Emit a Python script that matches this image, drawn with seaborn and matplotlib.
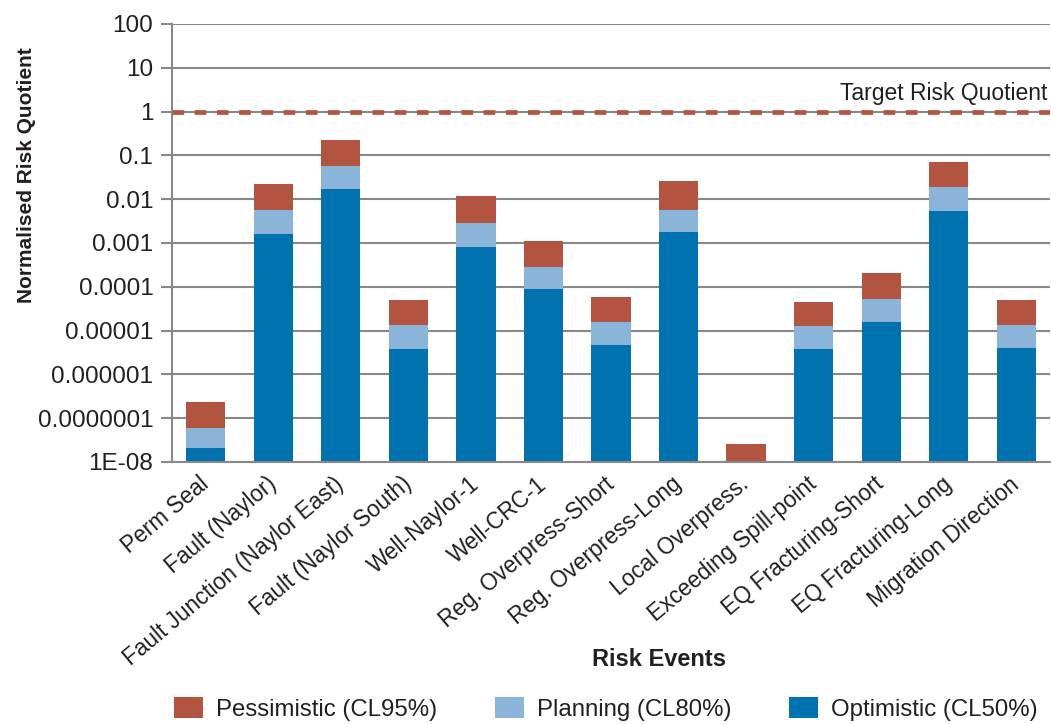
import numpy as np
import pandas as pd
import matplotlib
matplotlib.use("Agg")
import matplotlib.pyplot as plt
import matplotlib.transforms as mtransforms
from matplotlib.ticker import FixedLocator, FixedFormatter, NullLocator
import seaborn as sns

# Risk events along the x axis
events = [
    "Perm Seal", "Fault (Naylor)", "Fault Junction (Naylor East)",
    "Fault (Naylor South)", "Well-Naylor-1", "Well-CRC-1",
    "Reg. Overpress-Short", "Reg. Overpress-Long", "Local Overpress.",
    "Exceeding Spill-point", "EQ Fracturing-Short", "EQ Fracturing-Long",
    "Migration Direction",
]

# Normalised risk quotient per confidence level
pessimistic = [2.4e-7, 0.022, 0.22, 5.1e-5, 0.0116, 0.0011, 6.0e-5,
               0.026, 2.6e-8, 4.6e-5, 2.1e-4, 0.072, 4.9e-5]
planning = [5.9e-8, 0.0057, 0.057, 1.33e-5, 0.0028, 2.9e-4, 1.6e-5,
            0.0057, np.nan, 1.26e-5, 5.3e-5, 0.019, 1.33e-5]
optimistic = [2.1e-8, 0.00157, 0.017, 3.8e-6, 7.9e-4, 8.7e-5, 4.7e-6,
              0.00177, np.nan, 3.8e-6, 1.6e-5, 0.0055, 4.0e-6]

levels = ["Pessimistic (CL95%)", "Planning (CL80%)", "Optimistic (CL50%)"]
colors = ["#B35441", "#8AB5D8", "#0072AF"]

target_quotient = 1.0

y_ticks = [1e-8, 1e-7, 1e-6, 1e-5, 1e-4, 1e-3, 1e-2, 1e-1, 1, 10, 100]
y_tick_labels = ["1E-08", "0.0000001", "0.000001", "0.00001", "0.0001",
                 "0.001", "0.01", "0.1", "1", "10", "100"]

df = pd.concat([
    pd.DataFrame({"event": events, "value": vals, "level": lvl})
    for lvl, vals in zip(levels, [pessimistic, planning, optimistic])
], ignore_index=True)

sns.set_theme(style="white")
plt.rcParams["font.family"] = ["Liberation Sans", "DejaVu Sans"]
plt.rcParams["lines.scale_dashes"] = False
text_color = "#231F20"
grid_color = "#888888"

W, H = 1051, 724
fig = plt.figure(figsize=(W / 100, H / 100), dpi=100)
ax = fig.add_axes([172 / W, 1 - 462 / H, (1050 - 172) / W, (462 - 24) / H])

sns.barplot(data=df, x="event", y="value", hue="level", hue_order=levels,
            palette=colors, saturation=1, dodge=False, width=0.58,
            errorbar=None, linewidth=0, order=events, ax=ax)

ax.set_yscale("log")
ax.set_ylim(1e-8, 100)
ax.yaxis.set_major_locator(FixedLocator(y_ticks))
ax.yaxis.set_major_formatter(FixedFormatter(y_tick_labels))
ax.yaxis.set_minor_locator(NullLocator())

ax.set_axisbelow(True)
ax.grid(axis="y", color=grid_color, linewidth=1.5)
ax.grid(axis="x", visible=False)
for side in ["top", "right"]:
    ax.spines[side].set_visible(False)
for side in ["left", "bottom"]:
    ax.spines[side].set_color(grid_color)
    ax.spines[side].set_linewidth(1.5)

ax.tick_params(axis="y", which="major", length=8, width=1.5, color=grid_color,
               pad=5.5, labelsize=17.5, labelcolor=text_color, left=True)
ax.tick_params(axis="x", length=0, pad=14, labelsize=16.3, labelcolor=text_color)
for lab in ax.get_xticklabels():
    lab.set_rotation(40)
    lab.set_ha("right")
    lab.set_va("center")
    lab.set_rotation_mode("anchor")

# Target risk quotient threshold
ax.axhline(target_quotient, color="#B35441", linewidth=3.4,
           linestyle=(0, (8.4, 7.6)), zorder=3)
trans = mtransforms.blended_transform_factory(ax.transAxes, ax.transData)
ax.annotate("Target Risk Quotient", xy=(0.997, target_quotient), xycoords=trans,
            xytext=(0, 8), textcoords="offset points", ha="right",
            va="baseline", fontsize=16.5, color=text_color)

ax.set_ylabel("Normalised Risk Quotient", fontsize=15, fontweight="bold",
              color=text_color)
ax.yaxis.set_label_coords(-0.155, 0.655)
ax.set_xlabel("Risk Events", fontsize=17, fontweight="bold", color=text_color)
ax.xaxis.set_label_coords(0.555, -0.425)

handles, labels = ax.get_legend_handles_labels()
ax.get_legend().remove()
fig.legend(handles, labels, loc="center", bbox_to_anchor=(606 / W, 1 - 709 / H),
           ncol=3, frameon=False, fontsize=17.3, handlelength=1.19,
           handleheight=0.93, handletextpad=0.55, columnspacing=2.4,
           labelcolor=text_color)

fig.savefig("out.png", dpi=100)
